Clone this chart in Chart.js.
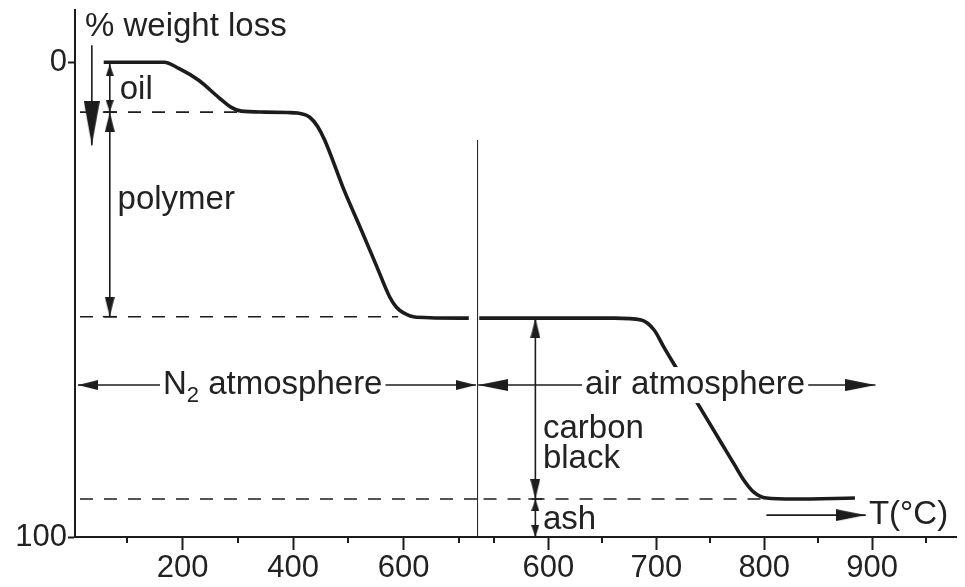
<!DOCTYPE html>
<html>
<head>
<meta charset="utf-8">
<script src="https://cdn.jsdelivr.net/npm/chart.js@4"></script>
<style>
  html, body { margin: 0; padding: 0; background: #fff; }
  #wrap { width: 965px; height: 587px; position: relative; }
</style>
</head>
<body>
<div id="wrap"><canvas id="tgaChart"></canvas></div>
<script>
// TGA trace, % weight loss vs temperature: first under N2, then under air
const n2Temp = [57, 166, 193, 229, 265, 288, 306, 349, 390, 408, 430, 444, 457, 492, 521, 552, 575, 587, 600, 623, 718];
const n2Loss = [0, 0, 1.3, 3.8, 7.4, 9.5, 10.3, 10.5, 10.6, 10.7, 11.6, 13.5, 16.4, 26.9, 34.7, 43.2, 49.5, 51.6, 52.8, 53.7, 53.9];
const airTemp = [536, 661, 686, 698, 707, 718, 741, 760, 772, 781, 790, 802, 827, 884];
const airLoss = [53.9, 53.9, 54.3, 56.4, 60.0, 64.2, 72.9, 80.1, 84.6, 88.0, 90.5, 91.8, 92.0, 91.8];

// plateau levels (dashed lines)
const oilLevel = 10.5;
const polymerLevel = 53.6;
const carbonLevel = 92;

// axes
const n2Range = [5, 733];
const airRange = [534, 978];
const n2Ticks = [200, 400, 600];
const n2MinorTicks = [100, 300, 500, 700];
const airTicks = [600, 700, 800, 900];
const airMinorTicks = [550, 650, 750, 850, 950];
const lossRange = [-11, 100];
const lossTicks = [0, 100];

// annotation texts
const labelText = ['% weight loss', 'oil', 'polymer', 'N_2 atmosphere', 'air atmosphere', 'carbon', 'black', 'ash', 'T(°C)'];
const labelAxis = ['x1', 'x1', 'x1', 'x1', 'x2', 'x2', 'x2', 'x2', 'x2'];
const labelX = [23, 86, 82, 363, 736, 595, 595, 595, 897];
const labelY = [-7.5, 5.9, 29, 68, 68, 77.2, 83.5, 96.3, 95.4];
const labelBoxed = [false, false, false, true, true, false, false, false, false];

const ink = '#1c1c1c';
const textInk = '#222';
const font = '"Liberation Sans", Arial, sans-serif';

// arrowhead pictures: tip sits at the centre of the canvas, pointing up
function makeHead(len, half) {
  const c = document.createElement('canvas');
  c.width = half * 2;
  c.height = len * 2;
  const g = c.getContext('2d');
  g.fillStyle = ink;
  g.beginPath();
  g.moveTo(half, len);
  g.lineTo(half * 2, len * 2);
  g.lineTo(0, len * 2);
  g.closePath();
  g.fill();
  return c;
}
const bigHead = makeHead(44, 8);
const midHead = makeHead(20, 5);
const smallHead = makeHead(12, 4);
const tHead = makeHead(30, 6);

function xy(xs, ys) {
  return xs.map((x, i) => ({ x: x, y: ys[i] }));
}

function arrowSet(axis, xs, ys, rot, head) {
  return {
    xAxisID: axis,
    data: xy(xs, ys),
    borderColor: ink,
    borderWidth: 1.6,
    pointStyle: rot.map(r => r === null ? false : head),
    rotation: rot.map(r => r || 0),
    pointRadius: rot.map(r => r === null ? 0 : 2),
    tension: 0
  };
}

function dashSet(axis, xs, level) {
  return {
    xAxisID: axis,
    data: xy(xs, xs.map(() => level)),
    borderColor: ink,
    borderWidth: 1.6,
    borderDash: [13, 11],
    pointRadius: 0,
    tension: 0
  };
}

const minorTickPlugin = {
  id: 'minorTicks',
  afterDraw(chart) {
    const ctx = chart.ctx;
    const bottom = chart.chartArea.bottom;
    ctx.save();
    ctx.strokeStyle = ink;
    ctx.lineWidth = 2;
    [['x1', n2MinorTicks], ['x2', airMinorTicks]].forEach(([id, vals]) => {
      const s = chart.scales[id];
      vals.forEach(v => {
        const px = Math.round(s.getPixelForValue(v));
        ctx.beginPath();
        ctx.moveTo(px, bottom);
        ctx.lineTo(px, bottom + 6);
        ctx.stroke();
      });
    });
    ctx.restore();
  }
};

const labelPlugin = {
  id: 'textLabels',
  afterDatasetsDraw(chart) {
    const ctx = chart.ctx;
    const yScale = chart.scales.y;
    ctx.save();
    ctx.textBaseline = 'middle';
    ctx.textAlign = 'left';
    labelText.forEach((text, i) => {
      const parts = text.split(/_(\d)/);
      const sizes = parts.map((p, k) => k % 2 ? 22 : 33);
      let w = 0;
      parts.forEach((p, k) => {
        ctx.font = sizes[k] + 'px ' + font;
        w += ctx.measureText(p).width;
      });
      const cx = chart.scales[labelAxis[i]].getPixelForValue(labelX[i]);
      const cy = yScale.getPixelForValue(labelY[i]);
      let x = labelBoxed[i] ? cx - w / 2 : cx;
      if (labelBoxed[i]) {
        ctx.fillStyle = '#fff';
        ctx.fillRect(x - 3, cy - 18, w + 6, 36);
      }
      ctx.fillStyle = textInk;
      parts.forEach((p, k) => {
        ctx.font = sizes[k] + 'px ' + font;
        ctx.fillText(p, x, k % 2 ? cy + 11 : cy);
        x += ctx.measureText(p).width;
      });
    });
    ctx.restore();
  }
};

const xAxisBase = {
  type: 'linear',
  position: 'bottom',
  stack: 'temp',
  border: { color: ink, width: 2 },
  grid: { drawOnChartArea: false, drawTicks: true, tickLength: 13, tickColor: ink, tickWidth: 2 },
  ticks: { color: textInk, font: { family: font, size: 31 }, padding: 0, maxRotation: 0, autoSkip: false },
  afterFit: s => { s.height = 50; }
};

new Chart(document.getElementById('tgaChart'), {
  type: 'line',
  data: {
    datasets: [
      { xAxisID: 'x1', data: xy(n2Temp, n2Loss), borderColor: ink, borderWidth: 3.6, pointRadius: 0, cubicInterpolationMode: 'monotone' },
      { xAxisID: 'x2', data: xy(airTemp, airLoss), borderColor: ink, borderWidth: 3.6, pointRadius: 0, cubicInterpolationMode: 'monotone' },
      dashSet('x1', [14, 300], oilLevel),
      dashSet('x1', [14, 590], polymerLevel),
      dashSet('x1', [14, 733], carbonLevel),
      dashSet('x2', [540, 808], carbonLevel),
      // atmosphere divider
      { xAxisID: 'x2', data: xy([534, 534], [16.4, 100]), borderColor: ink, borderWidth: 2, pointRadius: 0 },
      arrowSet('x1', [35.5, 35.5], [-3.6, 17.5], [null, 180], bigHead),
      arrowSet('x1', [68, 68], [0.4, oilLevel], [0, 180], smallHead),
      arrowSet('x1', [68, 68], [oilLevel, polymerLevel], [0, 180], midHead),
      arrowSet('x2', [588, 588], [53.9, carbonLevel], [0, 180], midHead),
      arrowSet('x2', [588, 588], [carbonLevel, 100], [0, 180], smallHead),
      arrowSet('x1', [10.4, 731], [68, 68], [270, 90], midHead),
      arrowSet('x2', [535, 903], [68, 68], [270, 90], tHead),
      arrowSet('x2', [802, 894], [95.4, 95.4], [null, 90], tHead),
      // little cross bars at the dimension lines
      { xAxisID: 'x1', data: xy([68, 68], [oilLevel, polymerLevel]), showLine: false, pointStyle: 'line', pointRadius: 7, pointBorderColor: ink, pointBorderWidth: 1.6 },
      { xAxisID: 'x2', data: xy([588], [carbonLevel]), showLine: false, pointStyle: 'line', pointRadius: 7, pointBorderColor: ink, pointBorderWidth: 1.6 }
    ]
  },
  options: {
    responsive: true,
    maintainAspectRatio: false,
    animation: false,
    layout: { padding: { top: 10, right: 0, left: 0, bottom: 0 } },
    plugins: { legend: { display: false }, tooltip: { enabled: false } },
    scales: {
      x1: Object.assign({}, xAxisBase, {
        min: n2Range[0], max: n2Range[1], stackWeight: 406,
        afterBuildTicks: s => { s.ticks = n2Ticks.map(v => ({ value: v })); }
      }),
      x2: Object.assign({}, xAxisBase, {
        min: airRange[0], max: airRange[1], stackWeight: 484,
        afterBuildTicks: s => { s.ticks = airTicks.map(v => ({ value: v })); }
      }),
      y: {
        type: 'linear',
        position: 'left',
        reverse: true,
        min: lossRange[0],
        max: lossRange[1],
        border: { color: ink, width: 2 },
        grid: { drawOnChartArea: false, drawTicks: true, tickLength: 7, tickColor: ink, tickWidth: 2 },
        ticks: { color: textInk, font: { family: font, size: 31 }, padding: 1 },
        afterBuildTicks: s => { s.ticks = lossTicks.map(v => ({ value: v })); },
        afterFit: s => { s.width = 75; s.paddingTop = 0; s.paddingBottom = 0; }
      }
    }
  },
  plugins: [minorTickPlugin, labelPlugin]
});
</script>
</body>
</html>
